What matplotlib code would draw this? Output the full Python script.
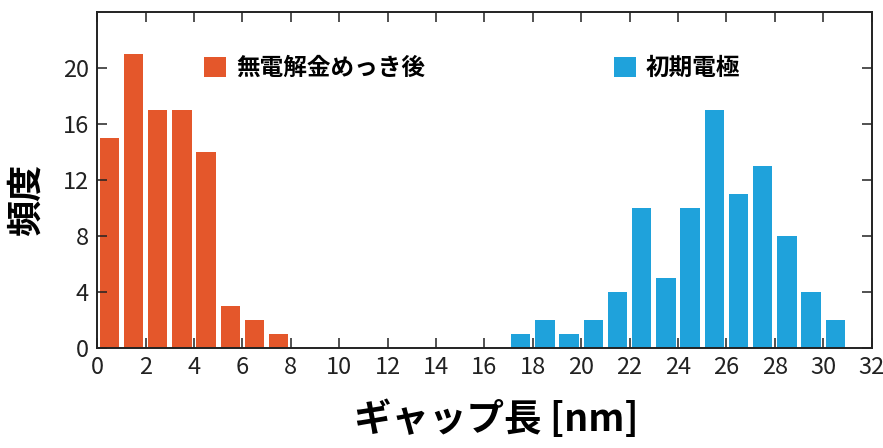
import matplotlib
matplotlib.use("Agg")
import matplotlib.pyplot as plt

plt.rcParams['font.family'] = ['Noto Sans CJK JP', 'DejaVu Sans']

# bin centres (nm) and counts
plated_gap = [0.5, 1.5, 2.5, 3.5, 4.5, 5.5, 6.5, 7.5]
plated_count = [15, 21, 17, 17, 14, 3, 2, 1]
initial_gap = [17.5, 18.5, 19.5, 20.5, 21.5, 22.5, 23.5, 24.5, 25.5, 26.5,
               27.5, 28.5, 29.5, 30.5]
initial_count = [1, 2, 1, 2, 4, 10, 5, 10, 17, 11, 13, 8, 4, 2]

plated_label = "無電解金めっき後"
initial_label = "初期電極"
x_ticks = [0, 2, 4, 6, 8, 10, 12, 14, 16, 18, 20, 22, 24, 26, 28, 30, 32]
y_ticks = [0, 4, 8, 12, 16, 20]

orange = "#E4572B"
blue = "#1FA2DB"

fig = plt.figure(figsize=(8.83, 4.48), dpi=100)
ax = fig.add_axes([0.110, 0.223, 0.877, 0.750])

b1 = ax.bar(plated_gap, plated_count, width=0.8, color=orange,
            label=plated_label)
b2 = ax.bar(initial_gap, initial_count, width=0.8, color=blue,
            label=initial_label)

ax.set_xlim(0, 32)
ax.set_ylim(0, 24)
ax.set_xticks(x_ticks)
ax.set_yticks(y_ticks)
ax.tick_params(direction="in", length=7, width=1.1, top=True, right=True,
               labelsize=17, pad=6, colors="#222222")
for s in ax.spines.values():
    s.set_linewidth(1.4)
    s.set_color("#222222")

ax.set_ylabel("頻度", fontsize=26, fontweight="bold")
ax.yaxis.set_label_coords(-0.068, 0.44)
ax.set_xlabel("ギャップ長 [nm]", fontsize=27, fontweight="bold")
ax.xaxis.set_label_coords(0.515, -0.155)

leg1 = ax.legend(handles=[b1], loc="center left", bbox_to_anchor=(0.138, 0.833),
                 frameon=False, borderpad=0, borderaxespad=0,
                 handlelength=0.95, handleheight=0.9, handletextpad=0.4,
                 prop={"size": 17, "weight": "bold"})
ax.add_artist(leg1)
ax.legend(handles=[b2], loc="center left", bbox_to_anchor=(0.667, 0.833),
          frameon=False, borderpad=0, borderaxespad=0,
          handlelength=0.95, handleheight=0.9, handletextpad=0.4,
          prop={"size": 17, "weight": "bold"})

fig.savefig("out.png", dpi=100)
